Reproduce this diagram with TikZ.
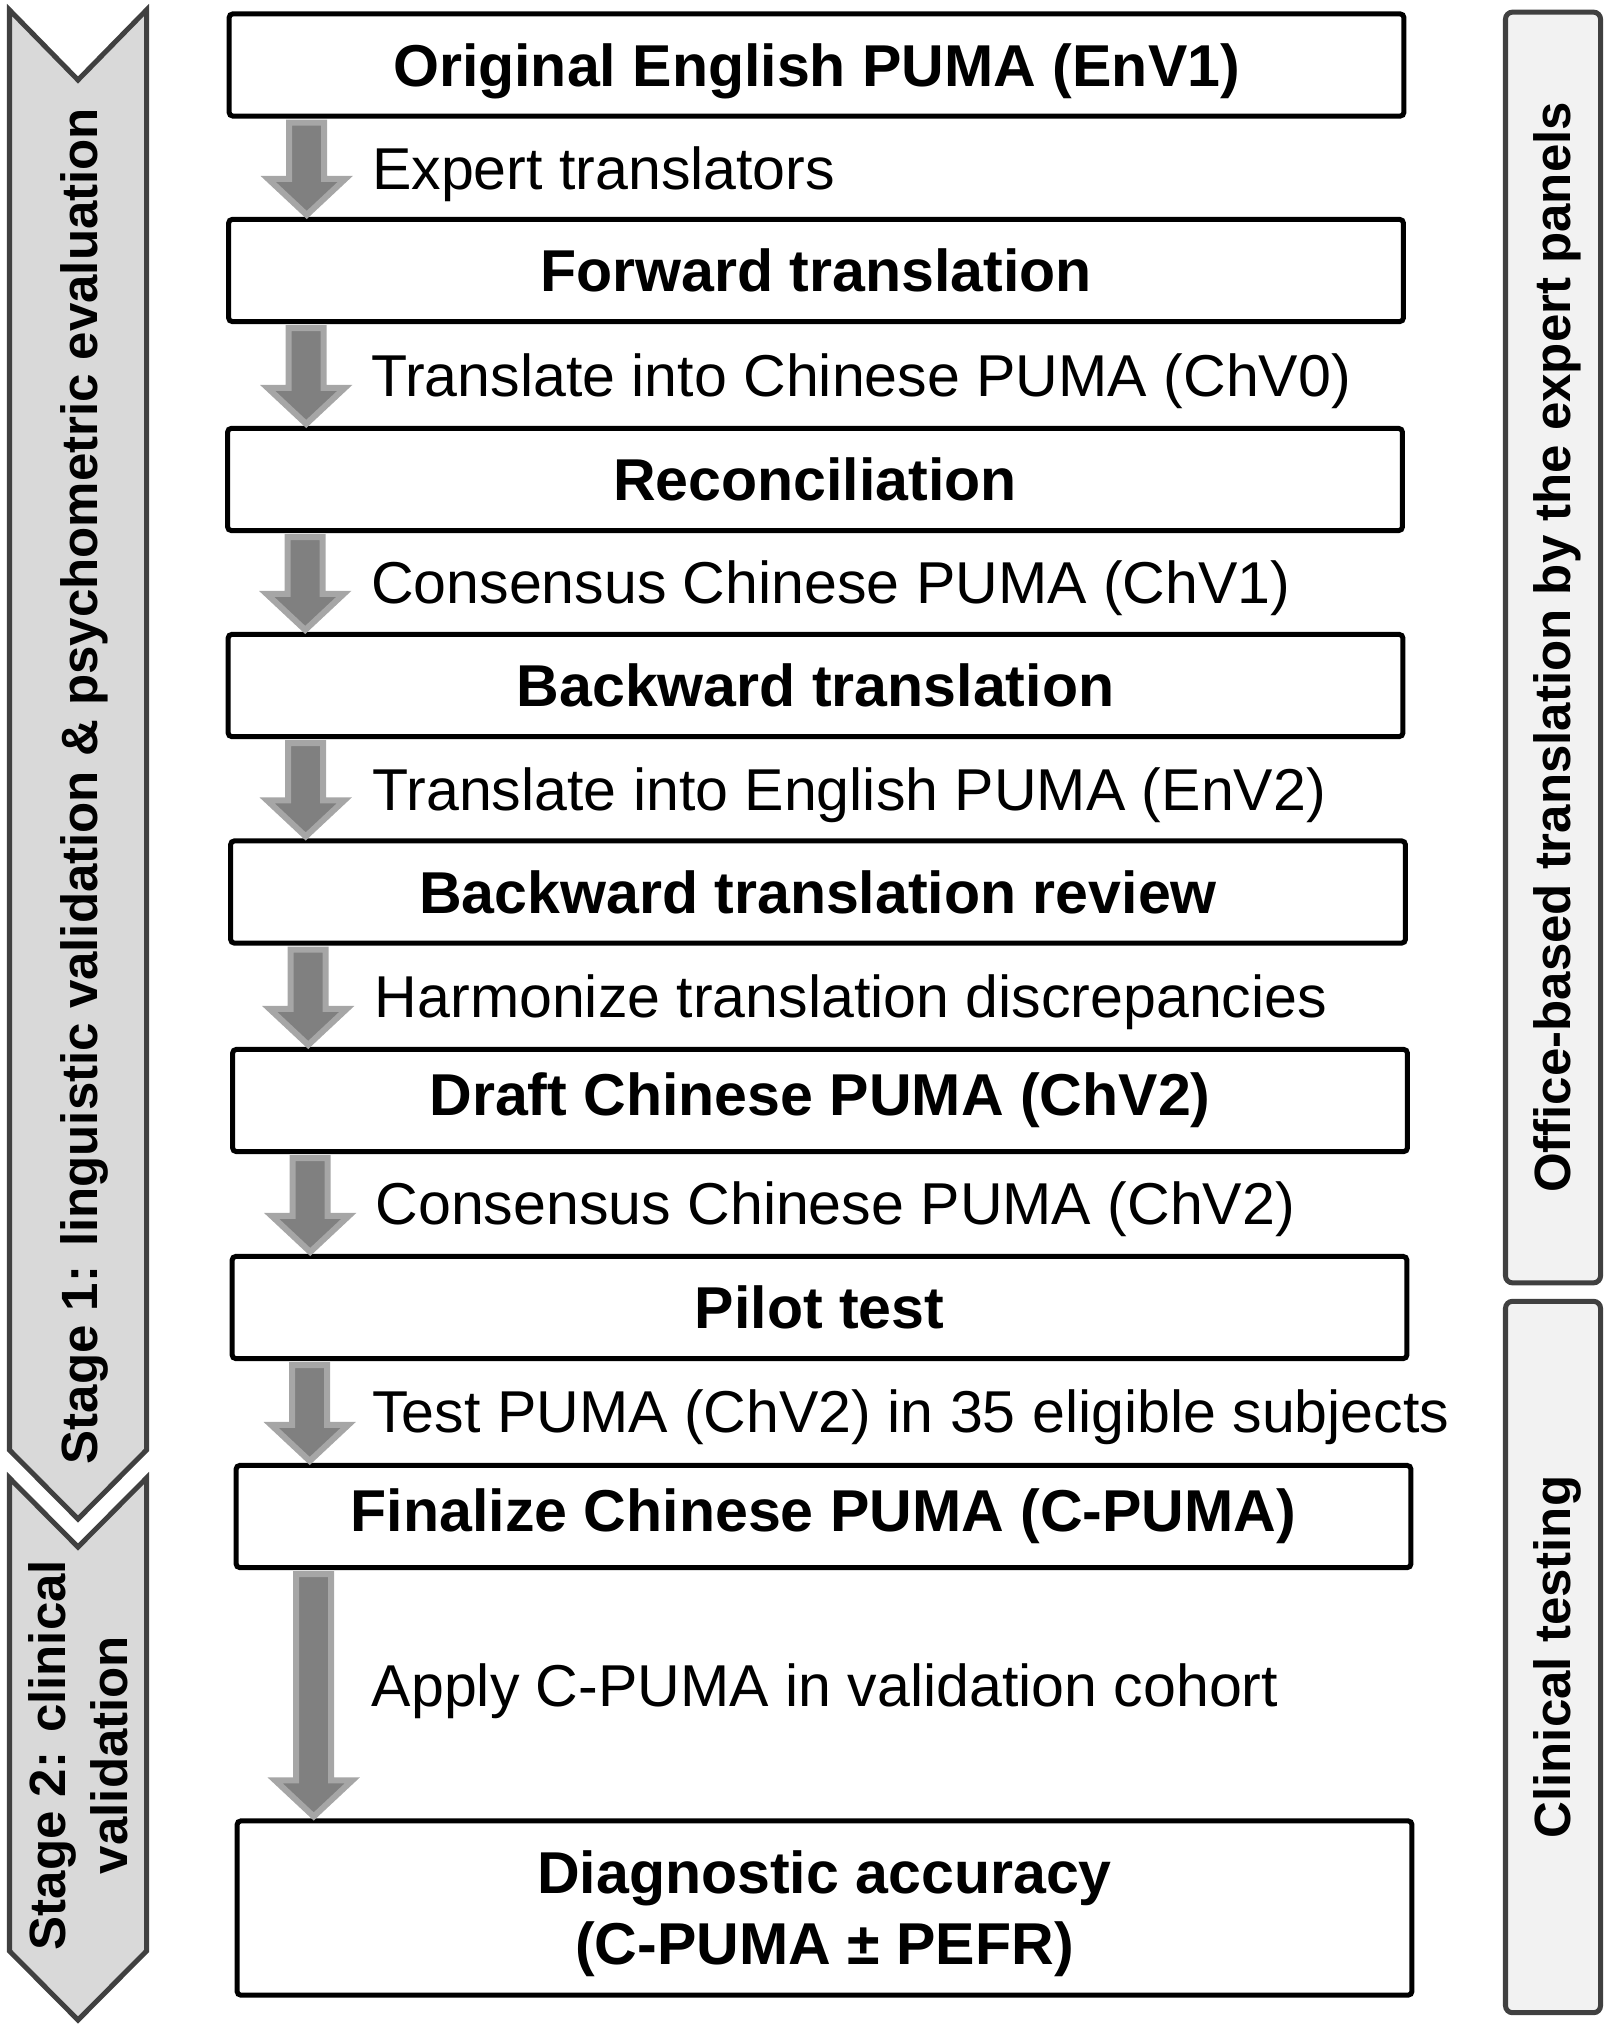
\documentclass[tikz,border=0pt]{standalone}
\usepackage{fontspec}
\setmainfont{Liberation Sans}
\usetikzlibrary{calc}

\definecolor{arrowFill}{HTML}{808080}
\definecolor{arrowEdge}{HTML}{A6A6A6}
\definecolor{stageFill}{HTML}{D9D9D9}
\definecolor{panelFill}{HTML}{F2F2F2}
\definecolor{frameGray}{HTML}{404040}

\newcommand{\blockarrow}[2]{%
    \draw[arrowBody] let \p1=(#1.south west), \p2=(#2.north west) in
        (\x1+0.625cm, \y1-0.04cm) -- (\x1+0.975cm, \y1-0.04cm) -- (\x1+0.975cm, \y2+0.38cm)
        -- (\x1+1.185cm, \y2+0.38cm) -- (\x1+0.80cm, \y2+0.02cm) -- (\x1+0.415cm, \y2+0.38cm)
        -- (\x1+0.625cm, \y2+0.38cm) -- cycle;}

\begin{document}
\begin{tikzpicture}[
    x=0.01cm, y=-0.01cm,
    stepBox/.style={draw, line width=0.05cm, rounded corners=1pt, minimum width=11.74cm,
        minimum height=1.02cm, inner sep=0pt, align=center,
        font=\fontsize{16.8pt}{20.2pt}\selectfont\bfseries},
    stepLabel/.style={anchor=west, inner sep=0pt, font=\fontsize{16.8pt}{20.2pt}\selectfont},
    stageShape/.style={draw=frameGray, fill=stageFill, line width=0.05cm},
    stageText/.style={rotate=90, inner sep=0pt, align=center,
        font=\fontsize{14.5pt}{17.6pt}\selectfont\bfseries},
    panelBox/.style={draw=frameGray, fill=panelFill, line width=0.05cm, rounded corners=2pt,
        rotate=90, minimum height=0.95cm, inner sep=0pt, text height=0.34cm, text depth=0cm,
        font=\fontsize{14.5pt}{17.6pt}\selectfont\bfseries},
    arrowBody/.style={draw=arrowEdge, fill=arrowFill, line width=0.06cm, line join=miter}
    ]
    \useasboundingbox (0,0) rectangle (1610,2031);

    \draw[stageShape] (9.5,10) -- (78,80) -- (146.5,10) -- (146.5,1450) -- (78,1519) -- (9.5,1450) -- cycle;
    \draw[stageShape] (9.5,1478) -- (78,1547) -- (146.5,1478) -- (146.5,1951) -- (78,2020) -- (9.5,1951) -- cycle;
    \node[stageText] (stage1) at (84, 786) {Stage 1: linguistic validation \& psychometric evaluation};
    \node[stageText] (stage2) at (78, 1755) {Stage 2: clinical\\validation};

    \node[panelBox, minimum width=12.70cm] (office) at (1553, 647.5) {Office-based translation by the expert panels};
    \node[panelBox, minimum width=7.11cm] (clinic) at (1553, 1657) {Clinical testing};

    \node[stepBox, text height=0.43cm, text depth=0cm] (box1) at (816.5, 65) {Original English PUMA (EnV1)};
    \node[stepBox] (box2) at (816, 270.5) {Forward translation};
    \node[stepBox] (box3) at (815, 479.5) {Reconciliation};
    \node[stepBox] (box4) at (815.5, 685.5) {Backward translation};
    \node[stepBox] (box5) at (818, 892) {Backward translation review};
    \node[stepBox] (box6) at (820, 1100.5) {Draft Chinese PUMA (ChV2)};
    \node[stepBox] (box7) at (819.5, 1307.5) {Pilot test};
    \node[stepBox] (box8) at (823.5, 1516.5) {Finalize Chinese PUMA (C-PUMA)};
    \node[stepBox, minimum height=1.74cm, text height=1.26cm, text depth=0.125cm] (box9) at (824.5, 1908) {Diagnostic accuracy\\(C-PUMA ± PEFR)};

    \node[stepLabel] (lab1) at ($(box1.south west)!0.5!(box2.north west)+(145,6)$) {Expert translators};
    \node[stepLabel] (lab2) at ($(box2.south west)!0.5!(box3.north west)+(145,6)$) {Translate into Chinese PUMA (ChV0)};
    \node[stepLabel] (lab3) at ($(box3.south west)!0.5!(box4.north west)+(145,6)$) {Consensus Chinese PUMA (ChV1)};
    \node[stepLabel] (lab4) at ($(box4.south west)!0.5!(box5.north west)+(145,6)$) {Translate into English PUMA (EnV2)};
    \node[stepLabel] (lab5) at ($(box5.south west)!0.5!(box6.north west)+(145,6)$) {Harmonize translation discrepancies};
    \node[stepLabel] (lab6) at ($(box6.south west)!0.5!(box7.north west)+(145,5)$) {Consensus Chinese PUMA (ChV2)};
    \node[stepLabel] (lab7) at ($(box7.south west)!0.5!(box8.north west)+(140,5)$) {Test PUMA (ChV2) in 35 eligible subjects};
    \node[stepLabel] (lab8) at ($(box8.south west)!0.5!(box9.north west)+(137,-3)$) {Apply C-PUMA in validation cohort};

    \blockarrow{box1}{box2}
    \blockarrow{box2}{box3}
    \blockarrow{box3}{box4}
    \blockarrow{box4}{box5}
    \blockarrow{box5}{box6}
    \blockarrow{box6}{box7}
    \blockarrow{box7}{box8}
    \blockarrow{box8}{box9}
\end{tikzpicture}
\end{document}
